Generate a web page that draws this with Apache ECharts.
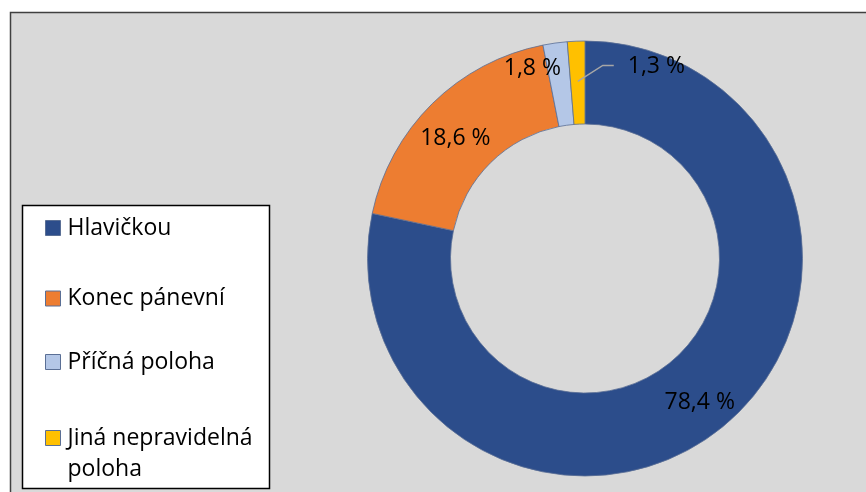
<!DOCTYPE html>
<html>
<head>
<meta charset="utf-8">
<script src="https://cdn.jsdelivr.net/npm/echarts@6/dist/echarts.min.js"></script>
<style>
  html, body { margin: 0; padding: 0; background: #ffffff; }
  #chart { width: 866px; height: 492px; }
</style>
</head>
<body>
<div id="chart"></div>
<script>
const categories = ['Hlavičkou', 'Konec pánevní', 'Příčná poloha', 'Jiná nepravidelná poloha'];
const values = [78.4, 18.6, 1.8, 1.3];
const colors = ['#2C4D8B', '#ED7D31', '#B4C7E7', '#FFC000'];

const FONT = "'Open Sans', 'Noto Sans', sans-serif";
const CX = 585, CY = 258.5, R0 = 134.5, R1 = 217.5;

const labelOffsets = [[2, 5], [-4, 7], [-28, -13], [0, 0]];
const legendTops = [212.5, 283, 346.5, 391.5];

const chart = echarts.init(document.getElementById('chart'), null, { renderer: 'canvas' });

const fmt = p => String(p.value).replace('.', ',') + ' %';

// main ring: sectors + inside labels
const ringData = categories.map((name, i) => ({
  name: name,
  value: values[i],
  itemStyle: { color: colors[i] },
  label: { show: i !== 3, offset: labelOffsets[i] }
}));

// overlay (transparent sectors) carrying the leader-line label, drawn above the ring
const calloutData = categories.map((name, i) => ({
  name: name,
  value: values[i],
  label: { show: i === 3 },
  labelLine: { show: i === 3 }
}));

const legends = categories.map((name, i) => ({
  data: [name],
  left: 45,
  top: legendTops[i],
  orient: 'vertical',
  padding: 0,
  itemWidth: 15,
  itemHeight: 15,
  icon: 'rect',
  itemStyle: { borderColor: '#5A6F95', borderWidth: 1 },
  selectedMode: false,
  formatter: n => n === 'Jiná nepravidelná poloha' ? '\nJiná nepravidelná\npoloha' : n,
  textStyle: {
    fontFamily: FONT,
    fontSize: 23,
    color: '#000000',
    lineHeight: 31,
    padding: [0, 0, 0, 2]
  }
}));

chart.setOption({
  animation: false,
  backgroundColor: '#ffffff',
  graphic: [
    {
      type: 'rect', z: -10,
      shape: { x: 10.5, y: 12.5, width: 900, height: 500 },
      style: { fill: '#D9D9D9', stroke: '#404040', lineWidth: 1.5 }
    },
    {
      type: 'rect', z: -9,
      shape: { x: 22.5, y: 205.5, width: 247, height: 283 },
      style: { fill: '#FFFFFF', stroke: '#000000', lineWidth: 1.5 }
    }
  ],
  legend: legends,
  series: [{
    type: 'pie',
    z: 2,
    center: [CX, CY],
    radius: [R0, R1],
    startAngle: 90,
    clockwise: true,
    avoidLabelOverlap: false,
    emphasis: { disabled: true },
    itemStyle: { borderColor: '#5A6F95', borderWidth: 0.8 },
    label: {
      show: true,
      position: 'inside',
      formatter: fmt,
      fontFamily: FONT,
      fontSize: 23,
      color: '#000000'
    },
    labelLine: { show: false },
    data: ringData
  }, {
    type: 'pie',
    z: 5,
    silent: true,
    legendHoverLink: false,
    center: [CX, CY],
    radius: [R0, R1],
    startAngle: 90,
    clockwise: true,
    avoidLabelOverlap: false,
    emphasis: { disabled: true },
    itemStyle: { color: 'rgba(0,0,0,0)', borderWidth: 0 },
    label: {
      position: 'outside',
      formatter: fmt,
      fontFamily: FONT,
      fontSize: 23,
      color: '#000000'
    },
    labelLine: { showAbove: true, length: 10, length2: 10, lineStyle: { color: '#A6A6A6', width: 1.5 } },
    labelLayout: function (params) {
      if (!params.labelLinePoints) return {};
      const p0 = params.labelLinePoints[0];
      const k = 0.815;
      const sx = CX + (p0[0] - CX) * k;
      const sy = CY + (p0[1] - CY) * k;
      const bx = sx + 25, by = sy - 16;
      const ex = bx + 11, ey = by;
      return {
        x: ex + 14,
        y: ey + 1,
        align: 'left',
        verticalAlign: 'middle',
        labelLinePoints: [[sx, sy], [bx, by], [ex, ey]]
      };
    },
    data: calloutData
  }]
});
</script>
</body>
</html>
